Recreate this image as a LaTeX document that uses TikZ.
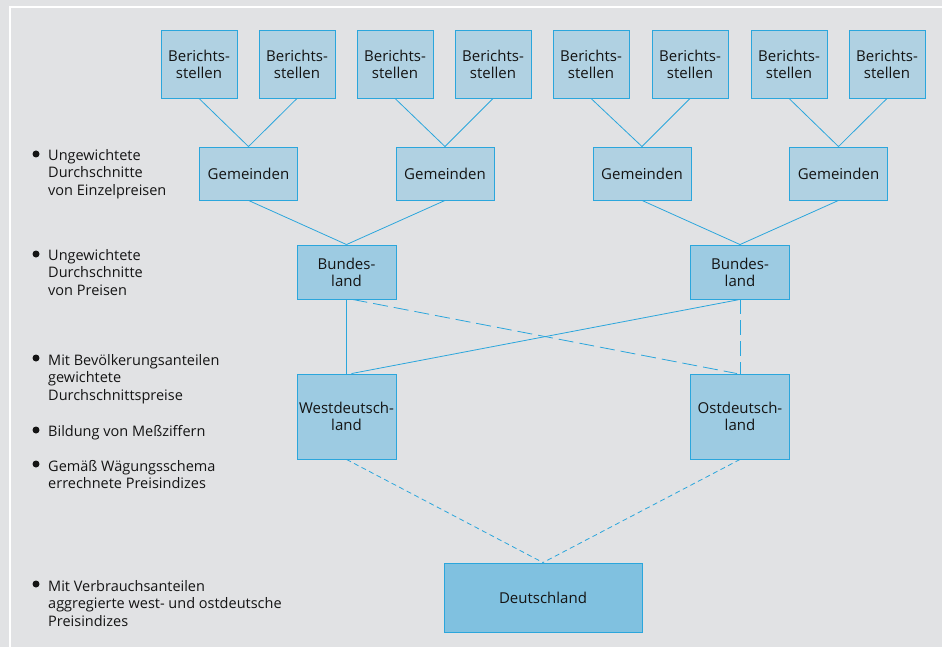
\documentclass[tikz,border=0pt]{standalone}
\usepackage{fontspec}
\setmainfont{Open Sans}
\definecolor{bg}{HTML}{E1E2E4}
\definecolor{edge}{HTML}{2BA6DC}
\definecolor{fa}{HTML}{B0D1E2}
\definecolor{fb}{HTML}{9DCBE2}
\definecolor{fc}{HTML}{80C1E0}
\definecolor{txt}{HTML}{141414}
\tikzset{
  box/.style={draw=edge, line width=0.9pt, inner sep=0pt, align=center, text=txt,
    font=\fontsize{15}{17}\selectfont},
  bsbox/.style={box, fill=fa, minimum width=76pt, minimum height=68pt},
  gembox/.style={box, fill=fa, minimum width=98pt, minimum height=53pt},
  blbox/.style={box, fill=fb, minimum width=99pt, minimum height=54pt},
  wobox/.style={box, fill=fb, minimum width=99pt, minimum height=85pt},
  debox/.style={box, fill=fc, minimum width=198pt, minimum height=69pt},
  conn/.style={draw=edge, line width=0.8pt},
  longdash/.style={conn, dash pattern=on 15pt off 6pt},
  shortdash/.style={conn, dash pattern=on 5pt off 3.5pt},
  lbl/.style={anchor=north west, inner sep=0pt, align=left, text=txt,
    font=\fontsize{14.5}{17.5}\selectfont},
  bullet/.style={fill=txt, circle, inner sep=0pt, minimum size=7pt}
}
\begin{document}
\begin{tikzpicture}[x=1pt,y=-1pt]
\fill[bg] (0,0) rectangle (942,647);
\useasboundingbox (0,0) rectangle (942,647);
\draw[white, line width=2pt] (10,647) -- (10,7) -- (942,7);

% Berichtsstellen
\foreach \i/\x in {1/199,2/297,3/395,4/493,5/591,6/690,7/789,8/887}{
  \node[bsbox] (b\i) at (\x,64) {Berichts-\\stellen};
}
% Gemeinden
\foreach \i/\x in {1/248.5,2/445,3/642,4/838.5}{
  \node[gembox] (g\i) at (\x,173.5) {Gemeinden};
}
\node[blbox] (bl1) at (346.5,272) {Bundes-\\land};
\node[blbox] (bl2) at (740,272) {Bundes-\\land};
\node[wobox] (w) at (346.5,416.5) {Westdeutsch-\\land};
\node[wobox] (o) at (740,416.5) {Ostdeutsch-\\land};
\node[debox] (d) at (543,597.5) {Deutschland};

% connectors
\draw[conn] (b1.south) -- (g1.north);
\draw[conn] (b2.south) -- (g1.north);
\draw[conn] (b3.south) -- (g2.north);
\draw[conn] (b4.south) -- (g2.north);
\draw[conn] (b5.south) -- (g3.north);
\draw[conn] (b6.south) -- (g3.north);
\draw[conn] (b7.south) -- (g4.north);
\draw[conn] (b8.south) -- (g4.north);
\draw[conn] (g1.south) -- (bl1.north);
\draw[conn] (g2.south) -- (bl1.north);
\draw[conn] (g3.south) -- (bl2.north);
\draw[conn] (g4.south) -- (bl2.north);
\draw[conn] (bl1.south) -- (w.north);
\draw[conn] (bl2.south) -- ([xshift=5pt]w.north);
\draw[longdash] ([xshift=6pt]bl1.south) -- ([xshift=-3pt]o.north);
\draw[longdash] (bl2.south) -- (o.north);
\draw[shortdash] (w.south) -- (d.north);
\draw[shortdash] (o.south) -- (d.north);

% left labels
\node[lbl] (l1) at (48,149) {Ungewichtete\\Durchschnitte\\von Einzelpreisen};
\node[lbl] (l2) at (48,249) {Ungewichtete\\Durchschnitte\\von Preisen};
\node[lbl] (l3) at (48,354) {Mit Bevölkerungsanteilen\\gewichtete\\Durchschnittspreise};
\node[lbl] (l4) at (48,425) {Bildung von Meßziffern};
\node[lbl] (l5) at (48,460) {Gemäß Wägungsschema\\errechnete Preisindizes};
\node[lbl] (l6) at (48,580) {Mit Verbrauchsanteilen\\aggregierte west- und ostdeutsche\\Preisindizes};
\foreach \y/\n in {154/1,254/2,358/3,430/4,464/5,584/6}{
  \node[bullet] (p\n) at (36,\y) {};
}
\end{tikzpicture}
\end{document}
